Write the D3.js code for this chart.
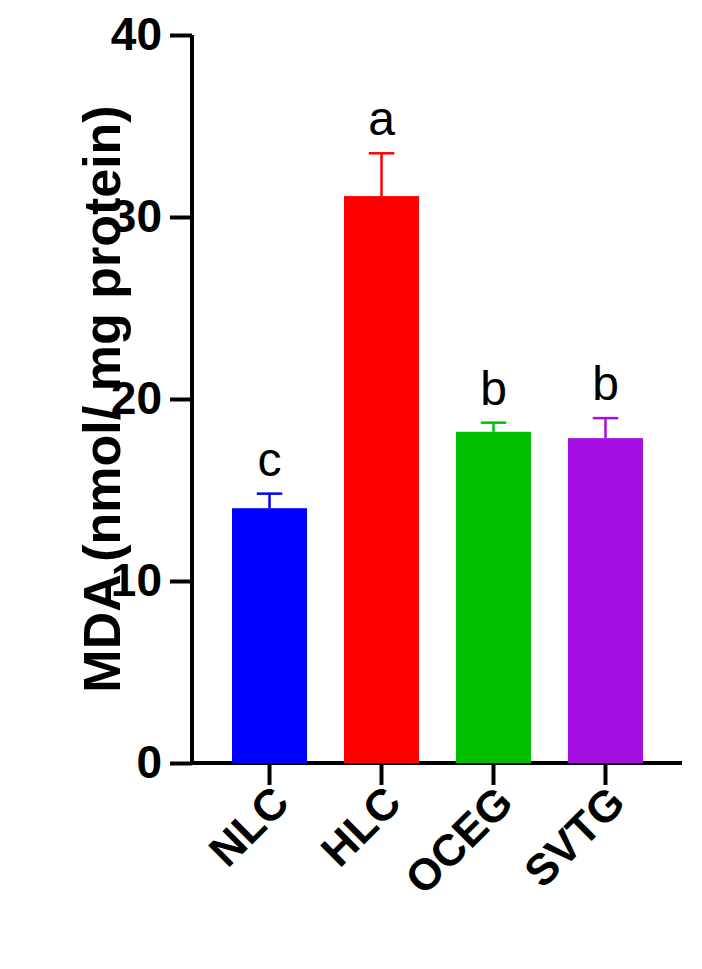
<!DOCTYPE html>
<html><head><meta charset="utf-8">
<script src="https://cdn.jsdelivr.net/npm/d3@7"></script>
<style>body{margin:0;background:#fff}</style></head>
<body><svg id="c" width="702" height="969"></svg>
<script>
const categories=["NLC","HLC","OCEG","SVTG"];
const means=[14.0,31.15,18.2,17.85];
const errors=[0.8,2.35,0.5,1.1];
const letters=["c","a","b","b"];
const colors=["#0000ff","#ff0000","#00bf00","#a50ee0"];
const yTicks=[0,10,20,30,40];

const svg=d3.select("#c");
const y=d3.scaleLinear().domain([0,40]).range([763,35]);
const x=d3.scaleBand().domain(categories).range([204,671]).paddingInner(0.33).paddingOuter(0.25);
const font="Arial, 'Liberation Sans', sans-serif";

const ya=svg.append("g").attr("transform","translate(192,0)")
 .call(d3.axisLeft(y).tickValues(yTicks).tickSize(22).tickPadding(8));
ya.select(".domain").attr("stroke","#000").attr("stroke-width",4).attr("d","M0,763V35");
ya.selectAll(".tick line").attr("stroke","#000").attr("stroke-width",4);
ya.selectAll("text").style("font-family",font).style("font-weight","bold").style("font-size","46px").attr("fill","#000");

const xa=svg.append("g").attr("transform","translate(0,763)")
 .call(d3.axisBottom(x).tickSize(22).tickPadding(10));
xa.select(".domain").attr("stroke","#000").attr("stroke-width",4).attr("d","M190,0H682");
xa.selectAll(".tick line").attr("stroke","#000").attr("stroke-width",4);
xa.selectAll("text").style("font-family",font).style("font-weight","bold").style("font-size","44px").attr("fill","#000")
 .attr("text-anchor","end").attr("y",0).attr("dy",0)
 .attr("transform","translate(22,42) rotate(-45)");

const g=svg.append("g");
categories.forEach((c,i)=>{
 const cx=x(c)+x.bandwidth()/2, col=colors[i];
 g.append("line").attr("x1",cx).attr("x2",cx).attr("y1",y(means[i])).attr("y2",y(means[i]+errors[i])).attr("stroke",col).attr("stroke-width",2.5);
 g.append("line").attr("x1",cx-x.bandwidth()*0.17).attr("x2",cx+x.bandwidth()*0.17).attr("y1",y(means[i]+errors[i])).attr("y2",y(means[i]+errors[i])).attr("stroke",col).attr("stroke-width",2.5);
 g.append("rect").attr("x",x(c)).attr("width",x.bandwidth()).attr("y",y(means[i])).attr("height",y(0)-y(means[i])).attr("fill",col);
 g.append("text").attr("x",cx).attr("y",y(means[i]+errors[i])-18).attr("text-anchor","middle")
  .style("font-family",font).style("font-size","48px").text(letters[i]);
});

svg.append("text").attr("transform","translate(120,399) rotate(-90)").attr("text-anchor","middle")
 .style("font-family",font).style("font-weight","bold").style("font-size","52px").text("MDA (nmol/ mg protein)");
</script></body></html>
